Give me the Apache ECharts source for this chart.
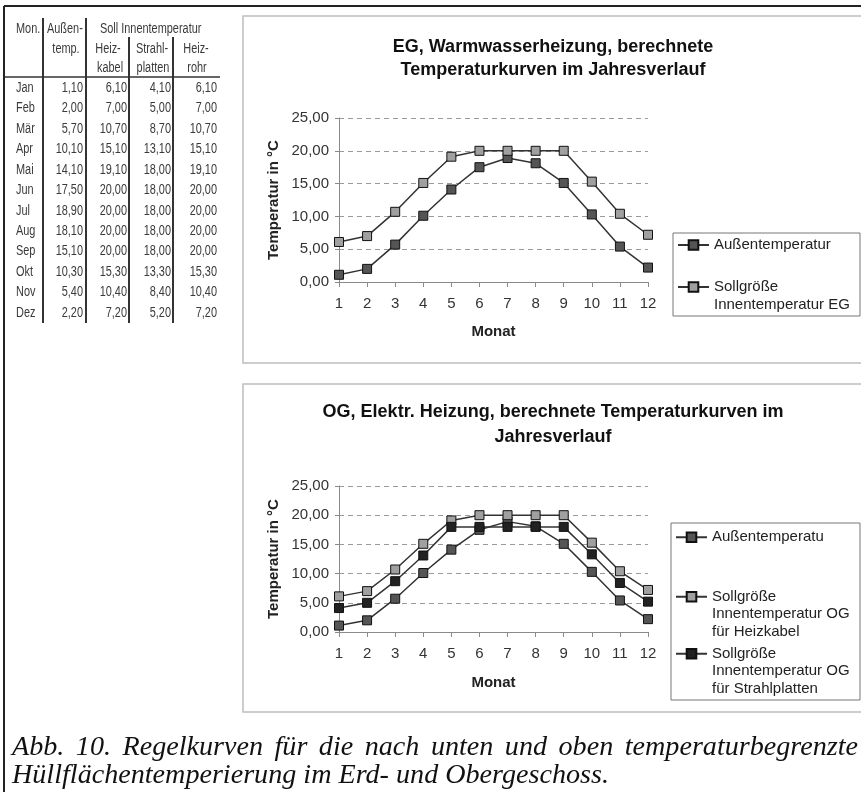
<!DOCTYPE html>
<html>
<head>
<meta charset="utf-8">
<script src="https://cdn.jsdelivr.net/npm/echarts@6/dist/echarts.min.js"></script>
<style>html,body{margin:0;padding:0;background:#fff;}#c{width:861px;height:792px;}</style>
</head>
<body>
<div id="c"></div>
<script>
// ---------- data ----------
const months = ['Jan','Feb','Mär','Apr','Mai','Jun','Jul','Aug','Sep','Okt','Nov','Dez'];
const monthNumbers = ['1','2','3','4','5','6','7','8','9','10','11','12'];
const aussen = [1.10, 2.00, 5.70, 10.10, 14.10, 17.50, 18.90, 18.10, 15.10, 10.30, 5.40, 2.20];
const heizkabel = [6.10, 7.00, 10.70, 15.10, 19.10, 20.00, 20.00, 20.00, 20.00, 15.30, 10.40, 7.20];
const strahlplatten = [4.10, 5.00, 8.70, 13.10, 18.00, 18.00, 18.00, 18.00, 18.00, 13.30, 8.40, 5.20];
const heizrohr = [6.10, 7.00, 10.70, 15.10, 19.10, 20.00, 20.00, 20.00, 20.00, 15.30, 10.40, 7.20];
const yMin = 0, yMax = 25, yStep = 5;

const title1 = ['EG, Warmwasserheizung, berechnete', 'Temperaturkurven im Jahresverlauf'];
const title2 = ['OG, Elektr. Heizung, berechnete Temperaturkurven im', 'Jahresverlauf'];
const caption = ['Abb. 10. Regelkurven für die nach unten und oben temperaturbegrenzte',
                 'Hüllflächentemperierung im Erd- und Obergeschoss.'];
const nameAussen1 = 'Außentemperatur';
const nameSoll1 = 'Sollgröße Innentemperatur EG';
const nameAussen2 = 'Außentemperatu';
const nameKabel2 = 'Sollgröße Innentemperatur OG für Heizkabel';
const nameStrahl2 = 'Sollgröße Innentemperatur OG für Strahlplatten';

// ---------- helpers ----------
const SANS = '"Liberation Sans", Arial, Helvetica, sans-serif';
const SERIF = '"Liberation Serif", "Times New Roman", serif';
const fmt = v => v.toFixed(2).replace('.', ',');
const mctx = document.createElement('canvas').getContext('2d');
function measure(text, font) { mctx.font = font; return mctx.measureText(text).width; }

const g = [];
// outer frame
g.push({type:'line', shape:{x1:4,y1:6,x2:861,y2:6}, style:{stroke:'#222', lineWidth:2}});
g.push({type:'line', shape:{x1:4,y1:6,x2:4,y2:792}, style:{stroke:'#222', lineWidth:2}});

// table
[[43,18],[86,18],[129,37],[173,37]].forEach(([x,y0]) =>
  g.push({type:'line', shape:{x1:x,y1:y0,x2:x,y2:323}, style:{stroke:'#333', lineWidth:2}}));
g.push({type:'line', shape:{x1:5,y1:77,x2:220,y2:77}, style:{stroke:'#333', lineWidth:1.5}});
function tt(text, x, y, align) {
  return {type:'text', x:x, y:y, scaleX:0.78,
    style:{text:text, align:align, verticalAlign:'middle', fontSize:14, fontFamily:SANS, fill:'#3a3a3a'}};
}
g.push(tt('Mon.',16,29,'left'));
g.push(tt('Außen-',47,29,'left'));
g.push(tt('Soll Innentemperatur',100,29,'left'));
g.push(tt('temp.',66,49,'center'));
g.push(tt('Heiz-',108,49,'center'));
g.push(tt('Strahl-',152,49,'center'));
g.push(tt('Heiz-',196,49,'center'));
g.push(tt('kabel',110,68,'center'));
g.push(tt('platten',153,68,'center'));
g.push(tt('rohr',197,68,'center'));
const cols = [aussen, heizkabel, strahlplatten, heizrohr];
const colRight = [83,127,171,217];
months.forEach((m,i) => {
  const y = 88 + i*20.45;
  g.push(tt(m,16,y,'left'));
  cols.forEach((arr,c) => g.push(tt(fmt(arr[i]), colRight[c], y, 'right')));
});

// chart boxes
g.push({type:'rect', shape:{x:243,y:16,width:640,height:347}, style:{fill:'none', stroke:'#bdbdbd', lineWidth:1.5}});
g.push({type:'rect', shape:{x:243,y:384,width:640,height:328}, style:{fill:'none', stroke:'#bdbdbd', lineWidth:1.5}});
// legend boxes
g.push({type:'rect', shape:{x:673,y:233,width:187,height:83}, style:{fill:'none', stroke:'#777', lineWidth:1}});
g.push({type:'rect', shape:{x:671,y:523,width:189,height:177}, style:{fill:'none', stroke:'#777', lineWidth:1}});

// titles
function title(text, y) {
  return {type:'text', x:553, y:y, style:{text:text, align:'center', verticalAlign:'middle',
    fontSize:18, fontWeight:'bold', fontFamily:SANS, fill:'#111'}};
}
g.push(title(title1[0],47)); g.push(title(title1[1],70));
g.push(title(title2[0],412)); g.push(title(title2[1],437));

// caption (first line justified)
const capFont = 'italic 28px ' + SERIF;
const capScale = 597 / measure(caption[1], capFont);
function capText(text, x, y) {
  return {type:'text', x:x, y:y, scaleX:capScale, style:{text:text, align:'left', verticalAlign:'middle',
    fontSize:28, fontStyle:'italic', fontFamily:SERIF, fill:'#111'}};
}
(function(){
  const words = caption[0].split(' ');
  const ws = words.map(w => measure(w, capFont)*capScale);
  const total = ws.reduce((a,b)=>a+b,0);
  const gap = (846 - total) / (words.length - 1);
  let x = 12;
  words.forEach((w,i) => { g.push(capText(w, x, 748)); x += ws[i] + gap; });
  g.push(capText(caption[1], 12, 776));
})();

// ---------- axes ----------
function xAxis(gridIndex, nameGap) {
  return {type:'category', gridIndex:gridIndex, data:monthNumbers, boundaryGap:false,
    axisLine:{lineStyle:{color:'#8a8a8a', width:1}},
    axisTick:{show:true, length:5, lineStyle:{color:'#8a8a8a'}},
    axisLabel:{fontSize:15, fontFamily:SANS, color:'#333', margin:14},
    splitLine:{show:false},
    name:'Monat', nameLocation:'middle', nameGap:nameGap,
    nameTextStyle:{fontSize:15, fontWeight:'bold', fontFamily:SANS, color:'#222'}};
}
function yAxis(gridIndex) {
  return {type:'value', gridIndex:gridIndex, min:yMin, max:yMax, interval:yStep,
    axisLine:{show:true, lineStyle:{color:'#8a8a8a', width:1}},
    axisTick:{show:true, length:4, lineStyle:{color:'#8a8a8a'}},
    axisLabel:{fontSize:15, fontFamily:SANS, color:'#333', margin:10, formatter:fmt},
    splitLine:{show:true, lineStyle:{color:'#9a9a9a', type:[5,4], width:1}},
    name:'Temperatur in °C', nameLocation:'middle', nameGap:58,
    nameTextStyle:{fontSize:15, fontWeight:'bold', fontFamily:SANS, color:'#222'}};
}
function series(name, data, xi, fill) {
  return {type:'line', name:name, data:data, xAxisIndex:xi, yAxisIndex:xi,
    symbol:'rect', symbolSize:9, showSymbol:true,
    lineStyle:{color:'#333', width:1.5},
    itemStyle:{color:fill, borderColor:'#111', borderWidth:1},
    emphasis:{disabled:true}};
}
function legend(name, lines, left, top, lh) {
  return {data:[name], orient:'vertical', left:left, top:top, padding:0,
    itemWidth:31, itemHeight:12, selectedMode:false,
    formatter: () => lines.join('\n'),
    textStyle:{fontSize:15, fontFamily:SANS, color:'#222', lineHeight:lh}};
}

const option = {
  animation:false,
  backgroundColor:'#fff',
  grid:[
    {left:339, top:118, width:309, height:164, containLabel:false},
    {left:339, top:486, width:309, height:146, containLabel:false}
  ],
  xAxis:[xAxis(0,42), xAxis(1,43)],
  yAxis:[yAxis(0), yAxis(1)],
  legend:[
    legend(nameAussen1, ['Außentemperatur'], 677, 236, 18),
    legend(nameSoll1, ['', 'Sollgröße', 'Innentemperatur EG'], 677, 260, 18),
    legend(nameAussen2, ['Außentemperatu'], 675, 528.5, 17.5),
    legend(nameKabel2, ['', '', 'Sollgröße', 'Innentemperatur OG', 'für Heizkabel'], 675, 553, 17.5),
    legend(nameStrahl2, ['', '', 'Sollgröße', 'Innentemperatur OG', 'für Strahlplatten'], 675, 610, 17.5)
  ],
  series:[
    series(nameAussen1, aussen, 0, '#555'),
    series(nameSoll1, heizrohr, 0, '#a0a0a0'),
    series(nameAussen2, aussen, 1, '#555'),
    series(nameKabel2, heizkabel, 1, '#a0a0a0'),
    series(nameStrahl2, strahlplatten, 1, '#222')
  ],
  graphic:{elements:g}
};
const chart = echarts.init(document.getElementById('c'), null, {renderer:'canvas', width:861, height:792});
chart.setOption(option);
</script>
</body>
</html>
